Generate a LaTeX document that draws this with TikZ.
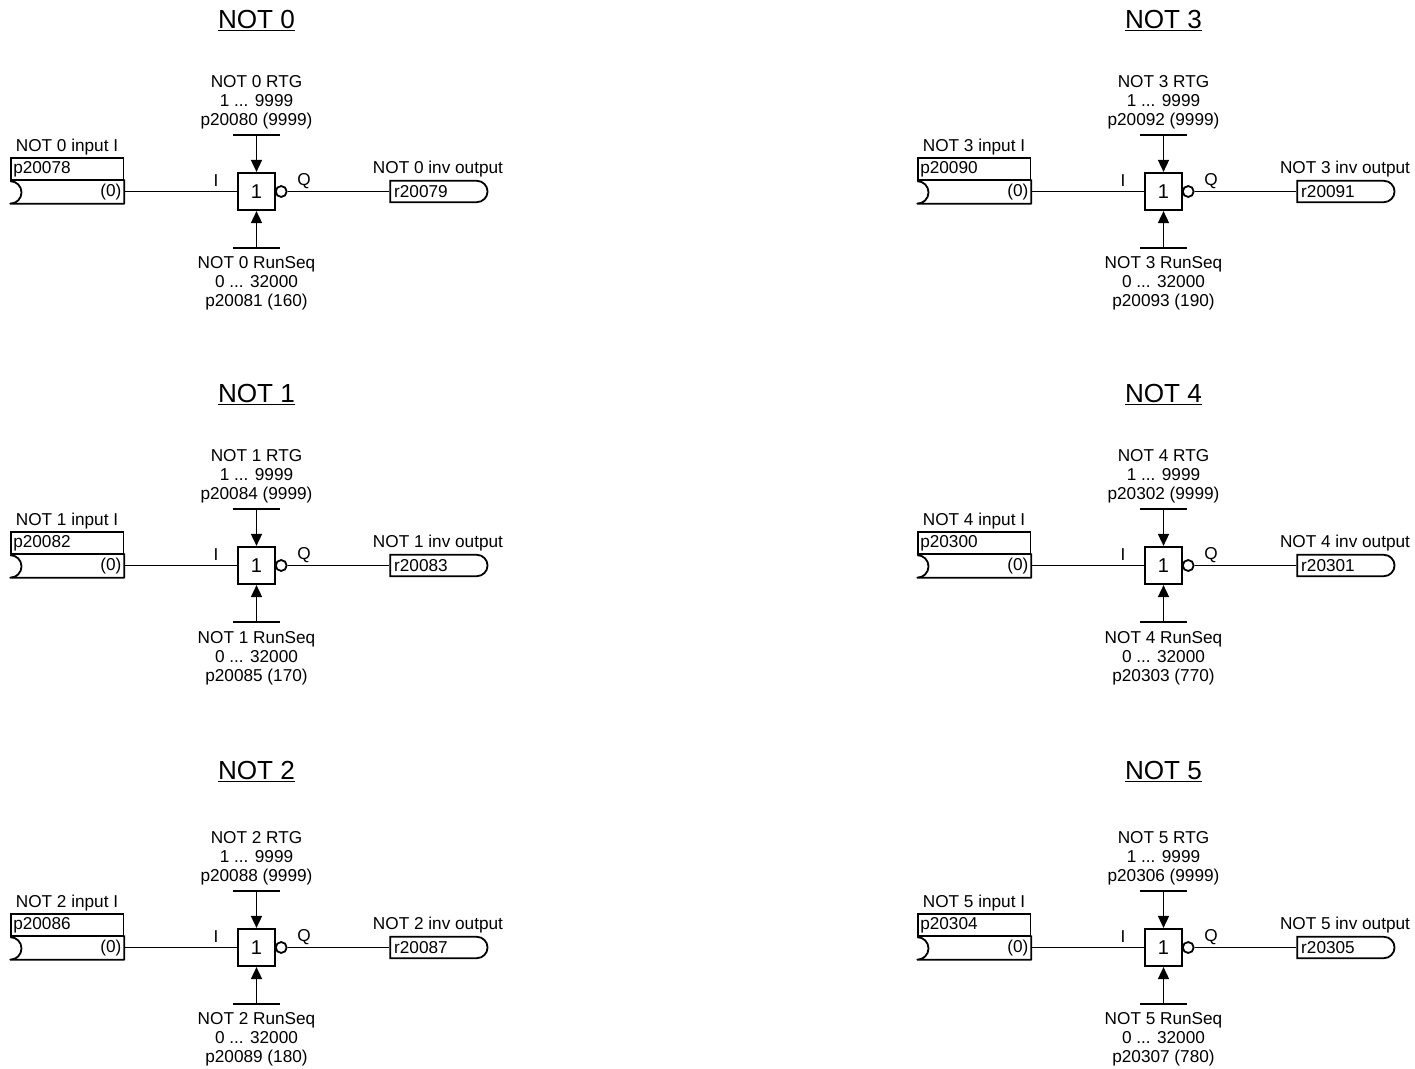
\documentclass[tikz,border=0pt]{standalone}
\usepackage{fontspec}
\setmainfont{Liberation Sans}
\usetikzlibrary{arrows.meta,shapes.misc}
\begin{document}
\begin{tikzpicture}[
    x=0.75pt, y=-0.75pt,
    line width=1.35pt,
    font=\fontsize{12.9}{14.25}\selectfont,
    blockbox/.style={draw, minimum size=28pt, inner sep=0pt, font=\fontsize{15}{15}\selectfont},
    invcircle/.style={draw, circle, minimum size=8.2pt, inner sep=0pt},
    outbox/.style={draw, rounded rectangle, rounded rectangle west arc=none, minimum width=73pt, minimum height=16pt, inner sep=0pt},
    parbox/.style={draw, minimum width=84.2pt, minimum height=16.9pt, inner sep=0pt},
    inbox/.style={minimum width=84.2pt, minimum height=16.9pt, inner sep=0pt},
    label/.style={align=center, inner sep=0pt},
    title/.style={inner sep=0pt, font=\fontsize{19.6}{22}\selectfont},
    inarrow/.style={-{Triangle[width=8.2pt,length=9pt]}},
  ]
  \useasboundingbox (0,0) rectangle (1415,1069);
  \foreach \n/\gx/\gy/\tdy/\bdy/\pin/\pout/\prtg/\pseq/\vseq in {
      0/256.5/191.5/-171/0/p20078/r20079/p20080/p20081/160,
      1/256.5/565.5/-171/1/p20082/r20083/p20084/p20085/170,
      2/256.5/947.5/-176/0/p20086/r20087/p20088/p20089/180,
      3/1163.5/191.5/-171/0/p20090/r20091/p20092/p20093/190,
      4/1163.5/565.5/-171/1/p20300/r20301/p20302/p20303/770,
      5/1163.5/947.5/-176/0/p20304/r20305/p20306/p20307/780} {
    \begin{scope}[shift={(\gx,\gy)}]
      \node[title] (title\n) at (0,\tdy) {\underline{NOT \n}};
      \node[blockbox] (gate\n) at (0,0) {1};
      \node[invcircle] (inv\n) at (24.7,0) {};
      % input side
      \node[parbox] (par\n) at (-189.2,-22.5) {};
      \node[inbox] (in\n) at (-189.2,0) {};
      \draw[line join=round] (in\n.north east) -- (in\n.south east) -- (in\n.south west)
        arc[start angle=90, end angle=-90, radius=11.25];
      \node[label, anchor=west] at (par\n.west) [xshift=1.6pt,yshift=-0.4pt] {\pin};
      \node[label, anchor=east] at (in\n.east) [xshift=-1.5pt,yshift=-0.6pt] {(0)};
      \node[label] at (-189.5,-44.5) {NOT \n\ input I};
      \node[label] at (-40.5,-10.5) {I};
      \node[label] at (47.5,-10.5) {Q};
      % output side
      \node[outbox, anchor=west] (out\n) at (132.8,0) {};
      \node[label, anchor=west] at (out\n.west) [xshift=3pt] {\pout};
      \node[label] at (181.5,-22.5) {NOT \n\ inv output};
      \draw (in\n.east) -- (gate\n.west);
      \draw (inv\n.east) -- (out\n.west);
      % upper and lower parameter
      \coordinate (rtg\n) at (0,-56.8);
      \coordinate (seq\n) at (0,56.8);
      \draw (-23.2,-56.8) -- (23.2,-56.8);
      \draw (-23.2,56.8) -- (23.2,56.8);
      \draw[inarrow] (rtg\n) -- (gate\n.north);
      \draw[inarrow] (seq\n) -- (gate\n.south);
      \node[label] at (0,-89.5) {NOT \n\ RTG\\1 ... 9999\\\prtg\ (9999)};
      \node[label] at (0,91.5+\bdy) {NOT \n\ RunSeq\\0 ... 32000\\\pseq\ (\vseq)};
    \end{scope}
  }
\end{tikzpicture}
\end{document}
